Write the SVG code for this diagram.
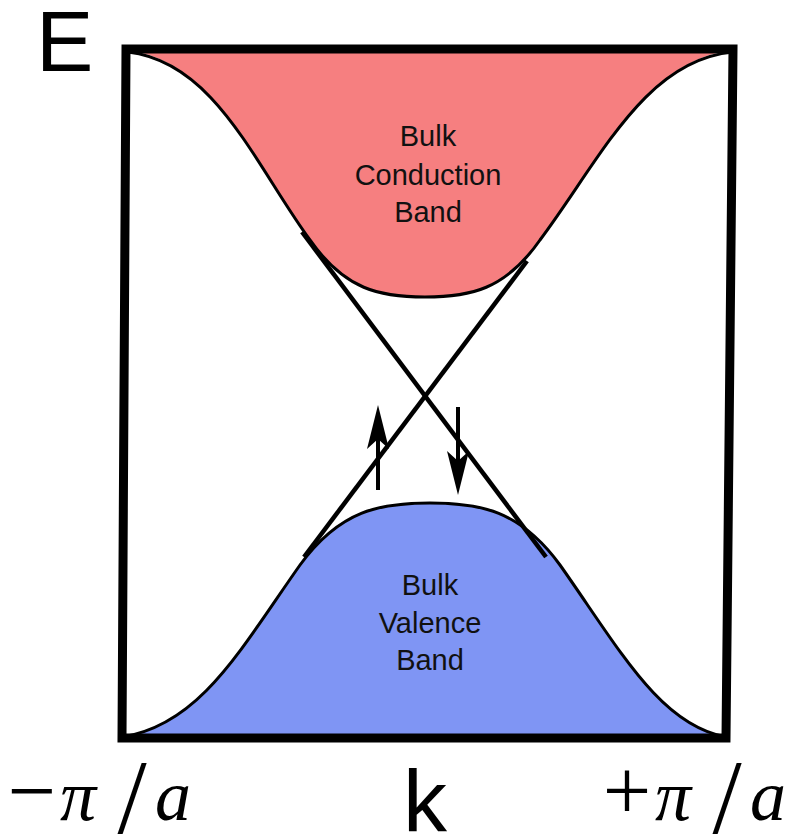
<svg xmlns="http://www.w3.org/2000/svg" width="790" height="839" viewBox="0 0 790 839">
  <defs>
    <style>
      .band-fill-c { fill: #F67F80; stroke: none; }
      .band-fill-v { fill: #7F95F4; stroke: none; }
      .curve { fill: none; stroke: #000; stroke-width: 3; }
      .surf { stroke: #000; stroke-width: 4.5; fill: none; }
      .spin { stroke: #000; stroke-width: 4; fill: none; marker-end: url(#ah); }
      .frame { fill: none; stroke: #000; stroke-width: 9; stroke-linejoin: miter; }
      .lbl { font-family: "Liberation Sans", Arial, sans-serif; font-size: 29px; fill: #111; text-anchor: middle; }
      .axis { font-family: "Liberation Sans", Arial, sans-serif; fill: #000; }
      .m { font-family: "Liberation Serif", "Times New Roman", serif; fill: #000; text-anchor: middle; }
      .mi { font-style: italic; font-size: 72px; }
    </style>
    <marker id="ah" markerUnits="userSpaceOnUse" markerWidth="44" markerHeight="22" viewBox="0 0 44 22" refX="36" refY="11" orient="auto">
      <path d="M0,0 L44,11 L0,22 L10,11 Z" fill="#000"/>
    </marker>
  </defs>

  <g id="conduction-band">
    <path class="band-fill-c" d="M128,50 C215,62 255,165 310,240 C345,290 380,297 425,297 C470,297 505,290 540,240 C600,160 645,60 733,50 Z"/>
    <path class="curve" d="M128,52 C215,62 255,165 310,240 C345,290 380,297 425,297 C470,297 505,290 540,240 C600,160 645,60 733,52"/>
    <text class="lbl" x="428" y="146">Bulk</text>
    <text class="lbl" x="428" y="185">Conduction</text>
    <text class="lbl" x="428" y="222">Band</text>
  </g>

  <g id="valence-band">
    <path class="band-fill-v" d="M122,737 C200,725 240,650 300,565 C340,510 380,503 430,503 C480,503 520,510 560,565 C620,650 660,725 726,737 Z"/>
    <path class="curve" d="M122,737 C200,725 240,650 300,565 C340,510 380,503 430,503 C480,503 520,510 560,565 C620,650 660,725 726,737"/>
    <text class="lbl" x="430" y="595">Bulk</text>
    <text class="lbl" x="430" y="633">Valence</text>
    <text class="lbl" x="430" y="670">Band</text>
  </g>

  <g id="connectors">
    <line class="surf" x1="302" y1="232" x2="546" y2="557"/>
    <line class="surf" x1="527" y1="261" x2="304" y2="557"/>
    <line class="spin" x1="378" y1="490" x2="378" y2="413"/>
    <line class="spin" x1="458" y1="407" x2="458" y2="487"/>
  </g>

  <g id="frame">
    <polygon class="frame" points="126,49 733,49 726,738 122,738"/>
  </g>

  <g id="axis-labels">
    <text class="axis" x="36" y="71" font-size="86">E</text>
    <text class="axis" x="403" y="831" font-size="88">k</text>
    <text class="m" x="32" y="820" font-size="86">−</text>
    <text class="m mi" x="78" y="820">π</text>
    <text class="m" x="132" y="833" font-size="105">/</text>
    <text class="m mi" x="173" y="820">a</text>
    <text class="m" x="627" y="820" font-size="86">+</text>
    <text class="m mi" x="673" y="820">π</text>
    <text class="m" x="727" y="833" font-size="105">/</text>
    <text class="m mi" x="768" y="820">a</text>
  </g>
</svg>
